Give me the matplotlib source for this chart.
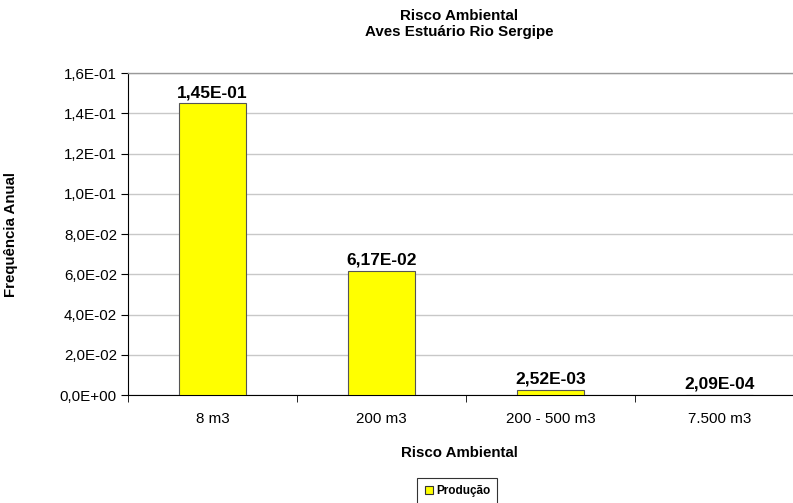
import matplotlib
matplotlib.use("Agg")
import matplotlib.pyplot as plt
from matplotlib.ticker import FuncFormatter, MultipleLocator
from matplotlib.lines import Line2D

plt.rcParams["font.family"] = ["Liberation Sans", "DejaVu Sans"]

# Data
categories = ["8 m3", "200 m3", "200 - 500 m3", "7.500 m3"]
values = [1.45e-01, 6.17e-02, 2.52e-03, 2.09e-04]
series_name = "Produção"


def sci_comma(v, decimals):
    s = f"{v:.{decimals}E}"
    return s.replace(".", ",")


fig = plt.figure(figsize=(7.93, 5.03), dpi=100)
# plot area runs a bit past the right edge of the picture, as in the original
ax = fig.add_axes([128 / 793, 0.2147, 676 / 793, 0.640])

x = range(len(categories))
bars = ax.bar(x, values, width=0.40, color="#ffff00", edgecolor="#555555",
              linewidth=0.8, zorder=3)

for xi, v in zip(x, values):
    ax.text(xi, v + 0.0015, sci_comma(v, 2), ha="center", va="bottom",
            fontsize=12.5, fontweight="bold")

ax.set_xlim(-0.5, len(categories) - 0.5)
ax.set_ylim(0, 0.16)
ax.yaxis.set_major_locator(MultipleLocator(0.02))
ax.yaxis.set_major_formatter(FuncFormatter(lambda v, p: sci_comma(v, 1)))
ax.set_xticks(list(x))
ax.set_xticklabels(categories)
ax.set_xticks([i + 0.5 for i in range(-1, len(categories))], minor=True)
ax.tick_params(axis="x", which="major", length=0, pad=12, labelsize=10.9)
ax.tick_params(axis="x", which="minor", length=5, direction="out")
ax.tick_params(axis="y", length=5, direction="out", labelsize=10.9, pad=3)

ax.grid(axis="y", color="#c8c8c8", linewidth=1, zorder=0)
ax.spines["right"].set_visible(False)
ax.spines["top"].set_color("#999999")
ax.spines["top"].set_linewidth(1)

fig.text(0.5788, 1 - 24 / 503, "Risco Ambiental\nAves Estuário Rio Sergipe",
         ha="center", va="center", fontsize=10.9, fontweight="bold",
         linespacing=1.25)
ax.set_xlabel("Risco Ambiental", fontsize=10.8, fontweight="bold")
ax.xaxis.set_label_coords((459 - 128) / 676, -0.158)
ax.set_ylabel("Frequência Anual", fontsize=10.8, fontweight="bold")
ax.yaxis.set_label_coords(-110 / 676, 0.5)

handle = Line2D([], [], marker="s", linestyle="none", markersize=6,
                markerfacecolor="#ffff00", markeredgecolor="#333333",
                markeredgewidth=0.8)
leg = fig.legend([handle], [series_name], loc="upper center",
                 bbox_to_anchor=(0.5765, 1 - 478 / 503), frameon=True,
                 fancybox=False, edgecolor="#000000", handlelength=0.8,
                 handletextpad=0.2, borderpad=0.6, borderaxespad=0,
                 prop={"size": 8.5, "weight": "bold"})
leg.get_frame().set_linewidth(0.8)

fig.savefig("out.png", dpi=100)
